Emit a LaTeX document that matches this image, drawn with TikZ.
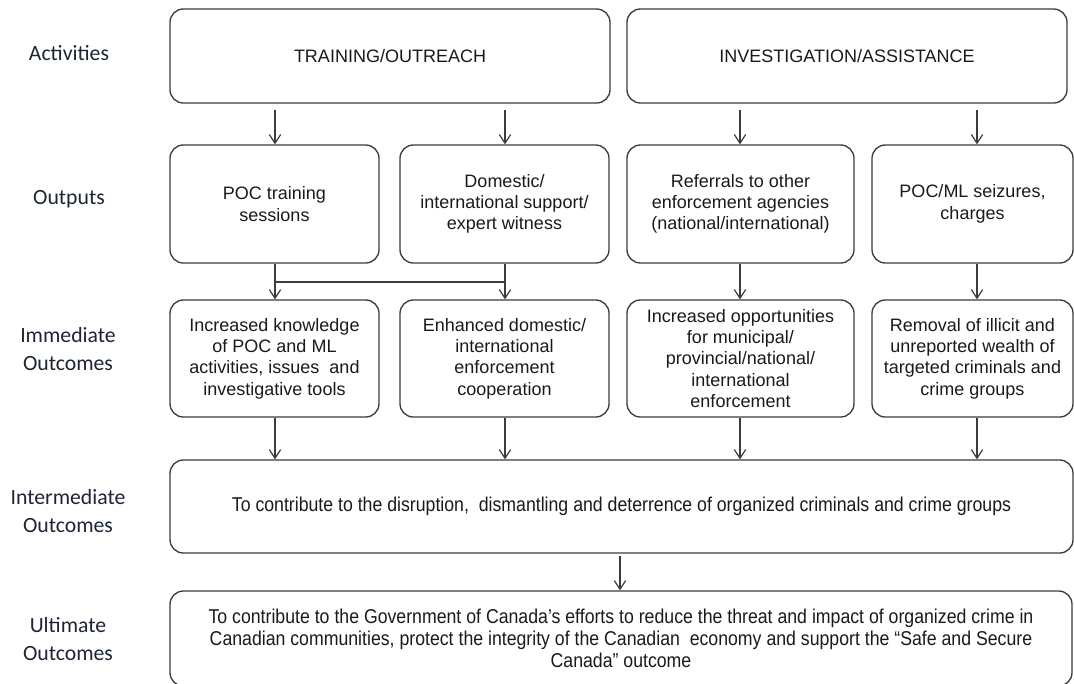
\documentclass[tikz,border=0pt]{standalone}
\usepackage{fontspec}
\setmainfont{Liberation Sans}
\newfontfamily\condfont[FakeStretch=0.885]{Liberation Sans}
\newfontfamily\labfont{Carlito}
\usetikzlibrary{arrows.meta}
\definecolor{boxline}{HTML}{3C3C3C}
\definecolor{boxtext}{HTML}{1A1A1A}
\definecolor{labtext}{HTML}{1D2433}
\tikzset{
  rbox/.style={draw=boxline, line width=1pt, rounded corners=10pt, align=center,
    inner sep=0pt, text=boxtext, font=\fontsize{13.5}{16}\selectfont},
  condbox/.style={rbox, font=\condfont\fontsize{15}{16.5}\selectfont},
  rowlab/.style={align=center, text=labtext, font=\labfont\fontsize{16.3}{21}\selectfont},
  arr/.style={draw=boxline, line width=0.9pt, -{Straight Barb[length=6.5pt,width=8.5pt,line width=0.9pt]}},
  link/.style={draw=boxline, line width=0.9pt}
}
\begin{document}
\begin{tikzpicture}[x=0.75pt, y=-0.75pt]
\clip (0,0) rectangle (1074,683);
% row labels
\node[rowlab] (lab1) at (69,53) {Activities};
\node[rowlab] (lab2) at (69,199) {Outputs};
\node[rowlab] (lab3) at (68,349) {Immediate\\Outcomes};
\node[rowlab] (lab4) at (68,511) {Intermediate\\Outcomes};
\node[rowlab] (lab5) at (68,639) {Ultimate\\Outcomes};
% activities
\node[rbox, minimum width=330pt, minimum height=70.5pt] (act1) at (390,56) {TRAINING/OUTREACH};
\node[rbox, minimum width=330pt, minimum height=70.5pt] (act2) at (847,56) {INVESTIGATION/ASSISTANCE};
% outputs
\node[rbox, minimum width=156.75pt, minimum height=88.5pt] (out1) at (274.5,204) {POC training\\sessions};
\node[rbox, minimum width=156.75pt, minimum height=88.5pt] (out2) at (504.5,204) {Domestic/\\international support/\\expert witness};
\node[rbox, minimum width=170.25pt, minimum height=88.5pt] (out3) at (740.5,204) {Referrals to other\\enforcement agencies\\(national/international)};
\node[rbox, minimum width=150.75pt, minimum height=88.5pt] (out4) at (972.5,204) {POC/ML seizures,\\charges};
% immediate outcomes
\node[rbox, minimum width=156.75pt, minimum height=87.75pt] (imm1) at (274.5,358.5) {Increased knowledge\\of POC and ML\\activities, issues\ \ and\\investigative tools};
\node[rbox, minimum width=156.75pt, minimum height=87.75pt] (imm2) at (504.5,358.5) {Enhanced domestic/\\international\\enforcement\\cooperation};
\node[rbox, minimum width=170.25pt, minimum height=87.75pt] (imm3) at (740.5,358.5) {Increased opportunities\\for municipal/\\provincial/national/\\international\\enforcement};
\node[rbox, minimum width=150.75pt, minimum height=87.75pt] (imm4) at (972.5,358.5) {Removal of illicit and\\unreported wealth of\\targeted criminals and\\crime groups};
% intermediate
\node[condbox, minimum width=677.25pt, minimum height=69.75pt] (inter) at (621.5,506.5) {To contribute to the disruption,\ \ dismantling and deterrence of organized criminals and crime groups};
% ultimate
\node[condbox, minimum width=676.5pt, minimum height=71.25pt] (ult) at (621,638.5) {To contribute to the Government of Canada’s efforts to reduce the threat and impact of organized crime in\\Canadian communities, protect the integrity of the Canadian\ \ economy and support the “Safe and Secure\\Canada” outcome};
% column coordinates
\coordinate (c1) at (275,0);
\coordinate (c2) at (505,0);
\coordinate (c3) at (740,0);
\coordinate (c4) at (977,0);
\coordinate (cm) at (620,0);
\coordinate (jy) at (0,282);
% activities -> outputs
\draw[arr, shorten <=5pt] (act1.south -| c1) -- (out1.north -| c1);
\draw[arr, shorten <=5pt] (act1.south -| c2) -- (out2.north -| c2);
\draw[arr, shorten <=5pt] (act2.south -| c3) -- (out3.north -| c3);
\draw[arr, shorten <=5pt] (act2.south -| c4) -- (out4.north -| c4);
% outputs -> immediate
\draw[arr] (out1.south -| c1) -- (imm1.north -| c1);
\draw[arr] (out2.south -| c2) -- (imm2.north -| c2);
\draw[link] (c1 |- jy) -- (c2 |- jy);
\draw[arr] (out3.south -| c3) -- (imm3.north -| c3);
\draw[arr] (out4.south -| c4) -- (imm4.north -| c4);
% immediate -> intermediate
\draw[arr] (imm1.south -| c1) -- (inter.north -| c1);
\draw[arr] (imm2.south -| c2) -- (inter.north -| c2);
\draw[arr] (imm3.south -| c3) -- (inter.north -| c3);
\draw[arr] (imm4.south -| c4) -- (inter.north -| c4);
% intermediate -> ultimate
\draw[arr, shorten <=2pt] (inter.south -| cm) -- (ult.north -| cm);
\end{tikzpicture}
\end{document}
